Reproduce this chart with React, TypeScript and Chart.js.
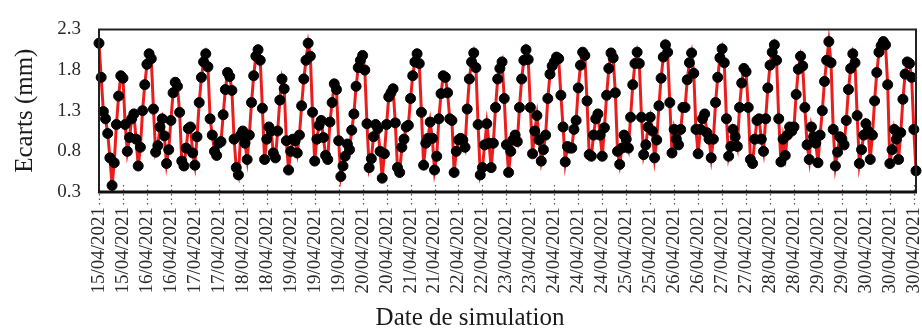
import React, { useEffect, useRef } from 'react';
import { Chart, registerables } from 'chart.js';

Chart.register(...registerables);

// Hourly values (mm), 15/04/2021 08:00 -> 30/04/2021 23:00
const day15 = [2.13, 1.71, 1.29, 1.20, 1.02, 0.72, 0.38, 0.66, 1.13, 1.48, 1.73, 1.70, 1.13, 0.80, 0.97, 1.20];
const day16 = [1.26, 0.95, 0.62, 0.85, 1.30, 1.62, 1.87, 2.00, 1.94, 1.32, 0.79, 0.87, 1.10, 1.20, 0.99, 0.65, 0.82, 1.18, 1.52, 1.65, 1.60, 1.28, 0.68, 0.62];
const day17 = [0.84, 1.08, 1.10, 0.78, 0.63, 0.98, 1.40, 1.71, 1.90, 2.00, 1.84, 1.20, 1.00, 0.80, 0.75, 0.90, 0.92, 1.25, 1.56, 1.77, 1.72, 1.55, 0.95, 0.60];
const day18 = [0.51, 1.00, 1.05, 0.90, 0.70, 1.00, 1.40, 1.73, 1.97, 2.05, 1.92, 1.33, 0.70, 0.95, 1.10, 1.05, 0.78, 0.72, 1.05, 1.43, 1.69, 1.57, 0.93, 0.57];
const day19 = [0.80, 0.95, 0.93, 0.78, 1.00, 1.36, 1.69, 1.92, 2.13, 1.97, 1.28, 0.68, 0.95, 1.12, 1.18, 0.97, 0.75, 0.70, 1.16, 1.40, 1.63, 1.56, 0.93, 0.49];
const day20 = [0.62, 0.74, 0.89, 0.82, 1.06, 1.26, 1.60, 1.83, 1.92, 1.98, 1.80, 1.14, 0.60, 0.71, 0.98, 1.13, 1.08, 0.80, 0.47, 0.77, 1.13, 1.47, 1.52, 1.57];
const day21 = [1.15, 0.60, 0.54, 0.85, 0.95, 1.10, 1.12, 1.45, 1.73, 1.90, 2.00, 1.88, 1.28, 0.63, 0.90, 0.96, 1.16, 0.96, 0.57, 0.74, 1.20, 1.51, 1.73, 1.71];
const day22 = [1.52, 1.20, 1.18, 0.54, 0.80, 0.94, 0.96, 0.94, 0.85, 1.32, 1.69, 1.90, 2.01, 1.83, 1.13, 0.51, 0.60, 0.88, 1.14, 0.90, 0.60, 0.90, 1.34, 1.69];
const day23 = [1.82, 1.90, 1.45, 0.88, 0.54, 0.80, 0.94, 1.00, 0.92, 1.34, 1.69, 1.92, 2.05, 1.93, 1.34, 0.77, 1.05, 1.24, 0.94, 0.68, 0.82, 1.00, 1.45, 1.75];
const day24 = [1.85, 1.90, 1.96, 1.94, 1.49, 1.10, 0.67, 0.86, 0.84, 0.84, 1.07, 1.18, 1.58, 1.86, 2.02, 1.98, 1.42, 0.76, 0.74, 1.00, 1.20, 1.26, 1.00, 0.74];
const day25 = [1.09, 1.49, 1.82, 2.01, 1.95, 1.52, 0.80, 0.64, 0.84, 1.00, 0.95, 0.84, 1.22, 1.62, 1.88, 2.02, 1.88, 1.22, 0.76, 0.88, 1.10, 1.22, 1.05, 0.72];
const day26 = [0.94, 1.36, 1.70, 1.96, 2.11, 2.02, 1.40, 0.78, 1.07, 0.95, 0.88, 1.07, 1.34, 1.34, 1.68, 1.89, 2.01, 1.76, 1.07, 0.77, 1.07, 1.20, 1.26, 1.03];
const day27 = [0.95, 0.72, 0.95, 1.40, 1.71, 1.95, 2.06, 1.89, 1.20, 0.74, 0.86, 1.07, 0.98, 0.86, 1.34, 1.64, 1.82, 1.78, 1.34, 0.70, 0.65, 0.95, 1.18, 1.20];
const day28 = [0.95, 0.80, 1.20, 1.58, 1.86, 2.02, 2.11, 1.92, 1.20, 0.67, 0.95, 0.75, 1.00, 1.10, 1.05, 1.10, 1.50, 1.81, 1.97, 1.85, 1.34, 0.88, 0.70, 1.10];
const day29 = [0.98, 0.90, 0.66, 1.00, 1.30, 1.66, 1.92, 2.15, 1.89, 1.07, 0.62, 0.79, 0.98, 0.95, 0.88, 1.18, 1.56, 1.82, 2.00, 1.89, 1.24, 0.65, 0.82, 1.00];
const day30 = [1.14, 1.05, 0.70, 1.00, 1.42, 1.77, 2.02, 2.10, 2.15, 2.11, 1.62, 0.65, 0.82, 1.07, 0.95, 0.70, 1.03, 1.44, 1.75, 1.90, 1.88, 1.71, 1.07, 0.56];

const dayDates = ['15/04/2021', '16/04/2021', '17/04/2021', '18/04/2021', '19/04/2021', '20/04/2021', '21/04/2021', '22/04/2021',
  '23/04/2021', '24/04/2021', '25/04/2021', '26/04/2021', '27/04/2021', '28/04/2021', '29/04/2021', '30/04/2021'];
const dayValues = [day15, day16, day17, day18, day19, day20, day21, day22, day23, day24, day25, day26, day27, day28, day29, day30];

const categories: string[] = [];
const ecarts: number[] = [];
dayValues.forEach((vals, d) => vals.forEach((v) => { categories.push(dayDates[d]); ecarts.push(v); }));

const LABEL_EVERY = 11;
const Y_MIN = 0.3;
const Y_MAX = 2.3;
const Y_STEP = 0.5;

const FONT = "'Liberation Serif', 'Times New Roman', serif";

const decorPlugin = {
  id: 'decor',
  afterDraw(chart: any) {
    const { ctx, chartArea } = chart;
    const { left, right, top, bottom } = chartArea;
    const xs = chart.scales.x;
    ctx.save();
    // dotted tick marks
    ctx.strokeStyle = '#555';
    ctx.lineWidth = 1.2;
    ctx.setLineDash([1.5, 3]);
    for (let i = 0; i < categories.length; i += LABEL_EVERY) {
      const x = Math.round(xs.getPixelForValue(i)) + 0.5;
      ctx.beginPath();
      ctx.moveTo(x, bottom - 7);
      ctx.lineTo(x, bottom + 13);
      ctx.stroke();
    }
    ctx.setLineDash([]);
    // frame
    ctx.strokeStyle = '#222';
    ctx.lineWidth = 2;
    ctx.beginPath();
    ctx.moveTo(left, bottom);
    ctx.lineTo(left, top);
    ctx.lineTo(right, top);
    ctx.lineTo(right, bottom);
    ctx.stroke();
    ctx.strokeStyle = '#111';
    ctx.lineWidth = 3;
    ctx.beginPath();
    ctx.moveTo(left - 1, bottom);
    ctx.lineTo(right + 1, bottom);
    ctx.stroke();
    // x axis title
    ctx.fillStyle = '#1a1a1a';
    ctx.font = `25px ${FONT}`;
    ctx.textAlign = 'center';
    ctx.textBaseline = 'middle';
    ctx.fillText('Date de simulation', 470, 318);
    ctx.restore();
  },
};

export default function App() {
  const ref = useRef<HTMLCanvasElement | null>(null);
  useEffect(() => {
    document.body.style.margin = '0';
    const canvas = ref.current;
    if (!canvas) return;
    const chart = new Chart(canvas, {
      type: 'line',
      data: {
        labels: categories,
        datasets: [
          {
            data: ecarts,
            borderColor: '#ea1d1d',
            borderWidth: 3,
            pointRadius: 5,
            pointBackgroundColor: '#000',
            pointBorderColor: '#000',
            pointBorderWidth: 1,
            tension: 0,
            clip: false as any,
          },
        ],
      },
      options: {
        responsive: false,
        animation: false,
        layout: { padding: { top: 17, right: 2, bottom: 0, left: 0 } },
        plugins: { legend: { display: false }, tooltip: { enabled: false } },
        scales: {
          x: {
            type: 'category',
            offset: false,
            grid: { display: false, drawTicks: false },
            border: { display: false },
            afterBuildTicks: (axis: any) => {
              axis.ticks = axis.ticks.filter((t: any) => t.value % LABEL_EVERY === 0);
            },
            afterFit: (s: any) => {
              s.height = 140;
              s.paddingLeft = 0;
              s.paddingRight = 0;
            },
            ticks: {
              autoSkip: false,
              minRotation: 90,
              maxRotation: 90,
              padding: 15,
              color: '#2a2a2a',
              font: { family: FONT, size: 19 },
              callback: (v: any) => categories[Number(v)],
            },
          },
          y: {
            min: Y_MIN,
            max: Y_MAX,
            grid: { display: false, drawTicks: false },
            border: { display: false },
            afterFit: (s: any) => {
              s.width = 99;
            },
            ticks: {
              stepSize: Y_STEP,
              padding: 18,
              color: '#2a2a2a',
              font: { family: FONT, size: 19 },
              callback: (v: any) => Number(v).toFixed(1),
            },
            title: {
              display: true,
              text: 'Ecarts (mm)',
              color: '#1a1a1a',
              font: { family: FONT, size: 25 },
              padding: { top: 10, bottom: 0 },
            },
          },
        },
      },
      plugins: [decorPlugin],
    } as any);
    return () => chart.destroy();
  }, []);
  return (
    <div style={{ width: 922, height: 332 }}>
      <canvas ref={ref} width={922} height={332} style={{ display: 'block', width: 922, height: 332 }} />
    </div>
  );
}
